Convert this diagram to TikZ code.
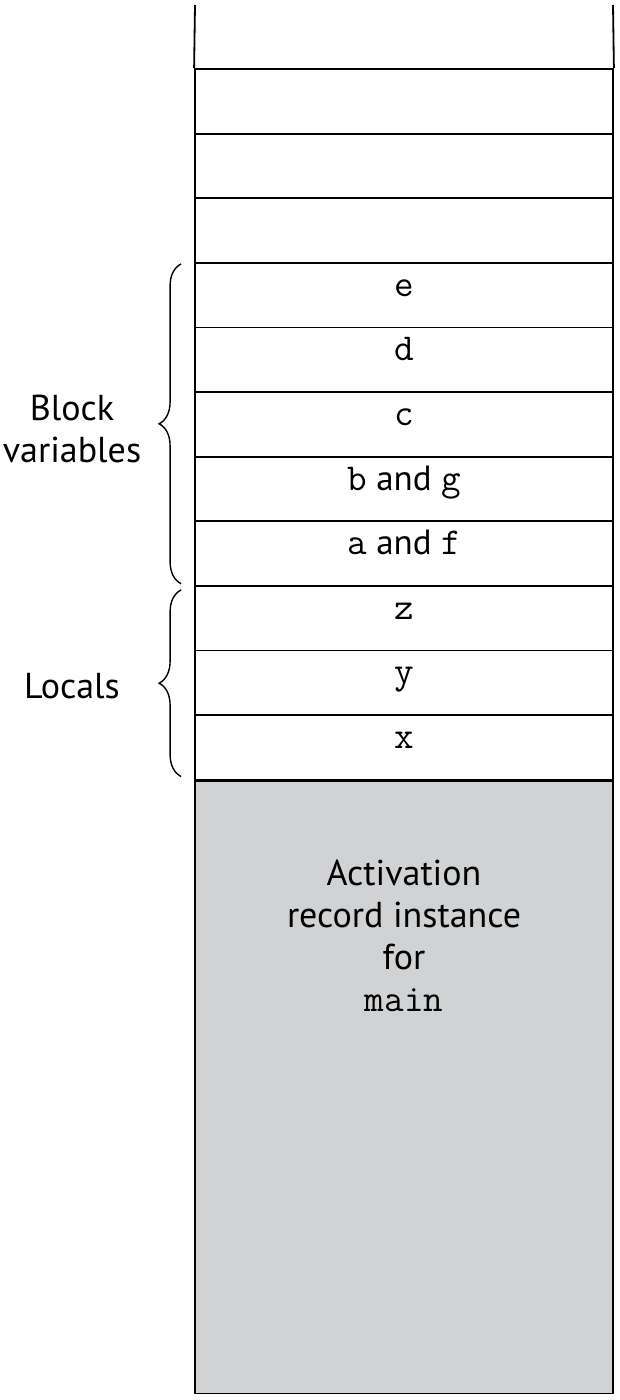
\documentclass[tikz,border=0pt]{standalone}
\usepackage{fontspec}
\setmainfont{PT Sans}
\usetikzlibrary{positioning,calc,decorations.pathreplacing}
\definecolor{arGray}{RGB}{209,210,212}
\newcommand{\vn}[1]{{\fontsize{38}{40}\selectfont\texttt{#1}}}
\tikzset{
  slot/.style={draw, line width=1.8pt, minimum width=418pt, minimum height=64.6pt, inner sep=0pt,
    text height=0.22em, text depth=0pt, font=\fontsize{35}{40}\selectfont},
  arbox/.style={draw, line width=1.8pt, fill=arGray, minimum width=418pt, minimum height=612pt, inner sep=0pt},
  sidebrace/.style={decorate, decoration={brace, amplitude=22pt}, line width=1.4pt},
  sidetext/.style={align=center, font=\fontsize{36}{42}\selectfont}
}
\begin{document}
\begin{tikzpicture}[x=1pt, y=-1pt]
  \useasboundingbox (0,0) rectangle (620,1400);
  % stack slots, top to bottom
  \foreach \txt [count=\i] in {{}, {}, {}, \vn{e}, \vn{d}, \vn{c},
      \vn{b} and \vn{g}, \vn{a} and \vn{f}, \vn{z}, \vn{y}, \vn{x}}
    \node[slot] (s\i) at (404, {69+64.6*(\i-0.5)}) {\txt};
  \coordinate (topL) at (195,5);
  \coordinate (topR) at (613,5);
  \draw[line width=1.8pt] (s1.north west) -- (topL);
  \draw[line width=1.8pt] (s1.north east) -- (topR);
  % activation record of main
  \node[arbox, anchor=north] (ar) at (s11.south) {};
  \node[sidetext, below=76pt of ar.north] (arlabel) {Activation\\record instance\\for\\\vn{main}};
  % braces on the left
  \coordinate (bvTop) at ($(s4.north west)+(-13,2)$);
  \coordinate (bvBot) at ($(s8.south west)+(-13,-3)$);
  \coordinate (loTop) at ($(s9.north west)+(-13,5)$);
  \coordinate (loBot) at ($(s11.south west)+(-13,-4)$);
  \draw[sidebrace] (bvBot) -- (bvTop);
  \draw[sidebrace] (loBot) -- (loTop);
  \node[sidetext] (bvlabel) at (72,429) {Block\\variables};
  \node[sidetext] (lolabel) at (72,686) {Locals};
\end{tikzpicture}
\end{document}
